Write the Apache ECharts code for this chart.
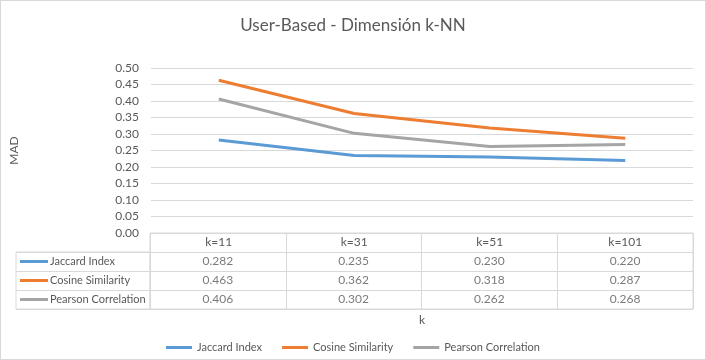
<!DOCTYPE html>
<html><head><meta charset="utf-8">
<script src="https://cdn.jsdelivr.net/npm/echarts@6/dist/echarts.min.js"></script>
<style>html,body{margin:0;padding:0;background:#fff}#c{width:706px;height:360px}#b{position:absolute;left:0;top:0;width:706px;height:360px;box-sizing:border-box;border:1px solid #d9d9d9;pointer-events:none}</style>
</head><body><div id="c"></div><div id="b"></div>
<script>
const categories = ['k=11', 'k=31', 'k=51', 'k=101'];
const seriesNames = ['Jaccard Index', 'Cosine Similarity', 'Pearson Correlation'];
const jaccard = [0.282, 0.235, 0.230, 0.220];
const cosine = [0.463, 0.362, 0.318, 0.287];
const pearson = [0.406, 0.302, 0.262, 0.268];
const colors = ['#5B9BD5', '#ED7D31', '#A5A5A5'];
const valuesList = [jaccard, cosine, pearson];

const FONT = 'Lato';
const TXT = '#595959';
const GRID = '#d9d9d9';

const chart = echarts.init(document.getElementById('c'));
const rich = {};
colors.forEach((c, i) => { rich['l' + i] = { width: 28, height: 3, backgroundColor: c }; });
rich.t = { color: TXT, fontSize: 11, fontFamily: FONT, padding: [0, 0, 0, 2] };

const series = [];
valuesList.forEach((vals, i) => {
  series.push({
    name: seriesNames[i], type: 'line', xAxisIndex: 0, yAxisIndex: 0,
    data: vals, symbol: 'none', lineStyle: { width: 3, color: colors[i] },
    itemStyle: { color: colors[i] }
  });
});
valuesList.forEach((vals, i) => {
  series.push({
    name: seriesNames[i] + ' (tabla)', type: 'scatter', xAxisIndex: 1, yAxisIndex: 1,
    symbolSize: 0, silent: true,
    data: categories.map((c, j) => [c, seriesNames[i], vals[j]]),
    label: { show: true, position: 'inside', color: TXT, fontSize: 12, fontFamily: FONT,
      formatter: p => p.value[2].toFixed(3) }
  });
});

chart.setOption({
  animation: false,
  color: colors,
  title: { text: 'User-Based - Dimensión k-NN', left: 'center', top: 12,
    textStyle: { color: TXT, fontSize: 17, fontWeight: 'normal', fontFamily: FONT } },
  legend: { data: seriesNames, left: 'center', top: 337, icon: 'rect', itemWidth: 26, itemHeight: 3,
    itemGap: 20, textStyle: { color: TXT, fontSize: 11, fontFamily: FONT } },
  grid: [
    { left: 150, right: 13, top: 68, height: 165 },
    { left: 150, right: 13, top: 233, height: 76, show: true, borderColor: GRID, borderWidth: 1 },
    { left: 16, width: 134, top: 252, height: 57, show: true, borderColor: GRID, borderWidth: 1 }
  ],
  xAxis: [
    { type: 'category', gridIndex: 0, data: categories, boundaryGap: true,
      axisLine: { show: false }, axisTick: { show: false },
      axisLabel: { margin: 3, color: TXT, fontSize: 12, fontFamily: FONT },
      name: 'k', nameLocation: 'middle', nameGap: 81,
      nameTextStyle: { color: TXT, fontSize: 12, fontFamily: FONT } },
    { type: 'category', gridIndex: 1, data: categories, boundaryGap: true,
      axisLine: { show: false }, axisTick: { show: false }, axisLabel: { show: false },
      splitLine: { show: true, lineStyle: { color: GRID } } },
    { type: 'category', gridIndex: 2, data: [''], show: false }
  ],
  yAxis: [
    { type: 'value', gridIndex: 0, min: 0, max: 0.5, interval: 0.05,
      axisLine: { show: false }, axisTick: { show: false },
      axisLabel: { margin: 12, color: TXT, fontSize: 12, fontFamily: FONT, formatter: v => v.toFixed(2) },
      splitLine: { lineStyle: { color: GRID } },
      name: 'MAD', nameLocation: 'middle', nameRotate: 90, nameGap: 131,
      nameTextStyle: { color: TXT, fontSize: 12, fontFamily: FONT } },
    { type: 'category', gridIndex: 1, data: [''].concat(seriesNames), inverse: true,
      axisLine: { show: false }, axisTick: { show: false }, axisLabel: { show: false },
      splitLine: { show: true, lineStyle: { color: GRID } } },
    { type: 'category', gridIndex: 2, data: seriesNames, inverse: true,
      axisLine: { show: false }, axisTick: { show: false },
      axisLabel: { inside: true, margin: 4, rich: rich,
        formatter: (v, i) => '{l' + i + '|}{t|' + v + '}' },
      splitLine: { show: true, lineStyle: { color: GRID } } }
  ],
  series: series
});
</script></body></html>
